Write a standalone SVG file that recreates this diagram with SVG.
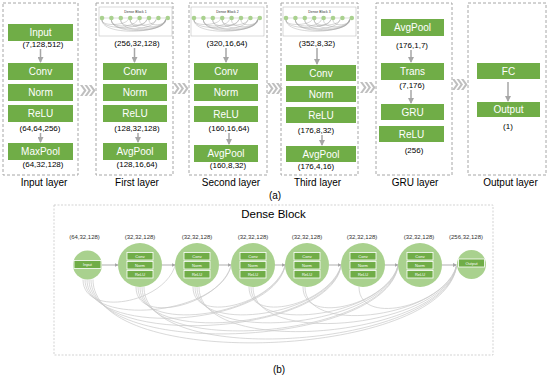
<svg xmlns="http://www.w3.org/2000/svg" width="550" height="377" viewBox="0 0 550 377">
<style>
.panel{fill:none;stroke:#a6a6a6;stroke-width:1;stroke-dasharray:3 2}
.box{fill:#70ad47}
.bt{font-family:"Liberation Sans",Arial,sans-serif;font-size:10px;fill:#fff;text-anchor:middle}
.dim{font-family:"Liberation Sans",Arial,sans-serif;font-size:8px;fill:#000;text-anchor:middle}
.lab{font-family:"Liberation Sans",Arial,sans-serif;font-size:10px;fill:#000;text-anchor:middle}
.arr{stroke:#a6a6a6;stroke-width:1.5;fill:none;marker-end:url(#ah)}
.chev{fill:#bfbfbf}
.circ{fill:#a9d18e}
.sbox{fill:#70ad47;stroke:#fff;stroke-width:0.8}
.st{font-family:"Liberation Sans",Arial,sans-serif;font-size:4px;fill:#fff;text-anchor:middle}
.sdim{font-family:"Liberation Sans",Arial,sans-serif;font-size:6px;fill:#333;text-anchor:middle}
.harr{stroke:#a6a6a6;stroke-width:0.9;fill:none;marker-end:url(#ah2)}
.curve{stroke:#c8c8c8;stroke-width:0.7;fill:none}
.tc{stroke:#9a9a9a;stroke-width:0.4;fill:none}
</style>
<defs>
<marker id="ah" markerUnits="userSpaceOnUse" markerWidth="6" markerHeight="6" refX="5" refY="3" orient="auto"><path d="M0,0 L6,3 L0,6 Z" fill="#a6a6a6"/></marker>
<marker id="ah2" markerUnits="userSpaceOnUse" markerWidth="4" markerHeight="4" refX="3.5" refY="2" orient="auto"><path d="M0,0 L4,2 L0,4 Z" fill="#a6a6a6"/></marker>
<g id="chevs">
<polygon points="0,0 2.5,0 6.5,5.5 2.5,11 0,11 4,5.5"/>
<polygon points="4.5,0 7,0 11,5.5 7,11 4.5,11 8.5,5.5"/>
<polygon points="9,0 11.5,0 15.5,5.5 11.5,11 9,11 13,5.5"/>
</g>
<g id="thumb">
<rect x="0" y="0" width="73" height="29" fill="#fff" stroke="#bfbfbf" stroke-width="0.6"/>
<line x1="3" y1="11" x2="68.8" y2="11" stroke="#a6a6a6" stroke-width="0.4"/>
<path class="tc" d="M3,13 C3,29 66,27 66.5,12.5"/>
<path class="tc" d="M3,13 C3,24 47,22 47.7,12.5"/>
<path class="tc" d="M3,13 C3,20 28,18 28.9,12.5"/>
<path class="tc" d="M12.4,13 C12.4,26 56,24 57,12.5"/>
<path class="tc" d="M12.4,13 C12.4,22 37,20 38.3,12.5"/>
<path class="tc" d="M21.8,13 C21.8,27 66,25 66.5,12.5"/>
<path class="tc" d="M21.8,13 C21.8,22 47,20 47.7,12.5"/>
<path class="tc" d="M31.2,13 C31.2,25 66,23 66.5,12.5"/>
<path class="tc" d="M31.2,13 C31.2,21 56,19 57,12.5"/>
<path class="tc" d="M40.6,13 C40.6,23 66,21 66.5,12.5"/>
<path class="tc" d="M50,13 C50,20 66,19 66.5,12.5"/>
<path class="tc" d="M12.4,13 C12.4,28 66,26 67,13"/>
<g fill="#a9d18e">
<circle cx="3" cy="11" r="2.3"/><circle cx="12.4" cy="11" r="2.3"/><circle cx="21.8" cy="11" r="2.3"/><circle cx="31.2" cy="11" r="2.3"/>
<circle cx="40.6" cy="11" r="2.3"/><circle cx="50" cy="11" r="2.3"/><circle cx="59.4" cy="11" r="2.3"/><circle cx="68.8" cy="11" r="2.3"/>
</g>
</g>
</defs>

<!-- (a) top panels -->
<g id="input-layer">
<rect class="panel" x="3" y="3" width="75" height="172"/>
<rect class="box" x="8" y="24" width="65" height="17"/><text class="bt" x="40.5" y="36">Input</text>
<text class="dim" x="43" y="47">(7,128,512)</text>
<rect class="box" x="8" y="63" width="65" height="17"/><text class="bt" x="40.5" y="75">Conv</text>
<rect class="box" x="8" y="84" width="65" height="17"/><text class="bt" x="40.5" y="96">Norm</text>
<rect class="box" x="8" y="105" width="65" height="17"/><text class="bt" x="40.5" y="117">ReLU</text>
<text class="dim" x="40" y="131">(64,64,256)</text>
<rect class="box" x="8" y="143" width="65" height="17"/><text class="bt" x="40.5" y="155">MaxPool</text>
<text class="dim" x="43" y="167">(64,32,128)</text>
<text class="lab" x="44" y="186">Input layer</text>
</g>
<g id="first-layer">
<rect class="panel" x="96" y="3" width="77" height="172"/>
<use href="#thumb" x="99" y="7"/>
<text x="135.5" y="12.5" font-family="Liberation Sans, Arial, sans-serif" font-size="3.5" text-anchor="middle" fill="#333">Dense Block 1</text>
<text class="dim" x="137" y="46">(256,32,128)</text>
<rect class="box" x="103" y="63" width="64" height="17"/><text class="bt" x="135" y="75">Conv</text>
<rect class="box" x="103" y="84" width="64" height="17"/><text class="bt" x="135" y="96">Norm</text>
<rect class="box" x="103" y="105" width="64" height="17"/><text class="bt" x="135" y="117">ReLU</text>
<text class="dim" x="137" y="131">(128,32,128)</text>
<rect class="box" x="103" y="143" width="64" height="17"/><text class="bt" x="135" y="155">AvgPool</text>
<text class="dim" x="137" y="167">(128,16,64)</text>
<text class="lab" x="137" y="186">First layer</text>
</g>
<g id="second-layer">
<rect class="panel" x="189" y="3" width="78" height="172"/>
<use href="#thumb" x="191" y="7"/>
<text x="227.5" y="12.5" font-family="Liberation Sans, Arial, sans-serif" font-size="3.5" text-anchor="middle" fill="#333">Dense Block 2</text>
<text class="dim" x="227" y="46">(320,16,64)</text>
<rect class="box" x="194" y="63" width="64" height="17"/><text class="bt" x="226" y="75">Conv</text>
<rect class="box" x="194" y="84" width="64" height="17"/><text class="bt" x="226" y="96">Norm</text>
<rect class="box" x="194" y="106" width="64" height="16"/><text class="bt" x="226" y="117.5">ReLU</text>
<text class="dim" x="229" y="131">(160,16,64)</text>
<rect class="box" x="194" y="145" width="64" height="17"/><text class="bt" x="226" y="157">AvgPool</text>
<text class="dim" x="228" y="168">(160,8,32)</text>
<text class="lab" x="231" y="186">Second layer</text>
</g>
<g id="third-layer">
<rect class="panel" x="281" y="3" width="77" height="172"/>
<use href="#thumb" x="283" y="7"/>
<text x="319.5" y="12.5" font-family="Liberation Sans, Arial, sans-serif" font-size="3.5" text-anchor="middle" fill="#333">Dense Block 3</text>
<text class="dim" x="317" y="46">(352,8,32)</text>
<rect class="box" x="286" y="65" width="70" height="16"/><text class="bt" x="321" y="76.5">Conv</text>
<rect class="box" x="286" y="86" width="70" height="16"/><text class="bt" x="321" y="97.5">Norm</text>
<rect class="box" x="286" y="107" width="70" height="16"/><text class="bt" x="321" y="118.5">ReLU</text>
<text class="dim" x="316" y="133">(176,8,32)</text>
<rect class="box" x="286" y="146" width="70" height="16"/><text class="bt" x="321" y="157.5">AvgPool</text>
<text class="dim" x="316" y="169">(176,4,16)</text>
<text class="lab" x="317.5" y="186">Third layer</text>
</g>
<g id="gru-layer">
<rect class="panel" x="376" y="3" width="76" height="172"/>
<rect class="box" x="381" y="19" width="63" height="17"/><text class="bt" x="412.5" y="31">AvgPool</text>
<text class="dim" x="412" y="48">(176,1,7)</text>
<rect class="box" x="381" y="63" width="63" height="17"/><text class="bt" x="412.5" y="75">Trans</text>
<text class="dim" x="412" y="88">(7,176)</text>
<rect class="box" x="381" y="104" width="63" height="16"/><text class="bt" x="412.5" y="115.5">GRU</text>
<rect class="box" x="379" y="126" width="65" height="16"/><text class="bt" x="411.5" y="137.5">ReLU</text>
<text class="dim" x="414" y="153">(256)</text>
<text class="lab" x="415" y="186">GRU layer</text>
</g>
<g id="output-layer">
<rect class="panel" x="468" y="3" width="78" height="172"/>
<rect class="box" x="477" y="63" width="63" height="16"/><text class="bt" x="508.5" y="74.5">FC</text>
<rect class="box" x="477" y="102" width="63" height="15"/><text class="bt" x="508.5" y="113">Output</text>
<text class="dim" x="508" y="129">(1)</text>
<text class="lab" x="510.5" y="186">Output layer</text>
</g>
<g id="connectors-a">
<line class="arr" x1="40.5" y1="49" x2="40.5" y2="62"/>
<line class="arr" x1="40.5" y1="133" x2="40.5" y2="142"/>
<line class="arr" x1="134.5" y1="48" x2="134.5" y2="62"/>
<line class="arr" x1="138" y1="133" x2="138" y2="142"/>
<line class="arr" x1="226" y1="48" x2="226" y2="62"/>
<line class="arr" x1="229" y1="133" x2="229" y2="144"/>
<line class="arr" x1="317" y1="48" x2="317" y2="64"/>
<line class="arr" x1="322" y1="135" x2="322" y2="145"/>
<line class="arr" x1="411" y1="50" x2="411" y2="62"/>
<line class="arr" x1="411" y1="90" x2="411" y2="103"/>
<line class="arr" x1="508" y1="82" x2="508" y2="101"/>
<g class="chev">
<use href="#chevs" x="80" y="85"/>
<use href="#chevs" x="173" y="83"/>
<use href="#chevs" x="267" y="83"/>
<use href="#chevs" x="360" y="82"/>
<use href="#chevs" x="452" y="79"/>
</g>
</g>
<text class="lab" x="275" y="199">(a)</text>

<!-- (b) dense block -->
<rect x="54" y="205" width="439" height="150" fill="none" stroke="#c8c8c8" stroke-width="0.8" stroke-dasharray="2 1.5"/>
<text x="273.5" y="218" font-family="Liberation Sans, Arial, sans-serif" font-size="11.5" text-anchor="middle" fill="#000">Dense Block</text>

<g id="connectors-b">
<line class="harr" x1="102" y1="265" x2="118" y2="265"/>
<line class="harr" x1="162" y1="265" x2="175" y2="265"/>
<line class="harr" x1="219" y1="265" x2="231" y2="265"/>
<line class="harr" x1="275" y1="265" x2="285" y2="265"/>
<line class="harr" x1="329" y1="265" x2="341" y2="265"/>
<line class="harr" x1="385" y1="265" x2="398" y2="265"/>
<line class="harr" x1="442" y1="265" x2="456.5" y2="265"/>
<path class="curve" d="M83,279.5 C83,317.5 163,304 175,266"/>
<path class="curve" d="M85,279.5 C85,328.5 219,315 231,266"/>
<path class="curve" d="M87,279.5 C87,339.5 273,326 285,266"/>
<path class="curve" d="M89,279.5 C89,349.5 329,336 341,266"/>
<path class="curve" d="M91,279.5 C91,360.5 386,347 398,266"/>
<path class="curve" d="M93,279.5 C93,372.5 444.5,359 456.5,266"/>
<path class="curve" d="M136,287 C136,326 219,305 231,266"/>
<path class="curve" d="M138,287 C138,336 273,315 285,266"/>
<path class="curve" d="M140,287 C140,347 329,326 341,266"/>
<path class="curve" d="M142,287 C142,358 386,337 398,266"/>
<path class="curve" d="M144,287 C144,369 444.5,348 456.5,266"/>
<path class="curve" d="M193,287 C193,325 273,304 285,266"/>
<path class="curve" d="M195,287 C195,336 329,315 341,266"/>
<path class="curve" d="M197,287 C197,347 386,326 398,266"/>
<path class="curve" d="M199,287 C199,359 444.5,338 456.5,266"/>
<path class="curve" d="M249,287 C249,325 329,304 341,266"/>
<path class="curve" d="M251,287 C251,336 386,315 398,266"/>
<path class="curve" d="M253,287 C253,348 444.5,327 456.5,266"/>
<path class="curve" d="M303,287 C303,326 386,305 398,266"/>
<path class="curve" d="M305,287 C305,337 444.5,316 456.5,266"/>
<path class="curve" d="M359,287 C359,327 444.5,306 456.5,266"/>
</g>

<g id="node-input">
<text class="sdim" x="84.5" y="239">(64,32,128)</text>
<circle class="circ" cx="87.5" cy="265" r="14.5"/>
<rect class="sbox" x="74" y="260.5" width="27" height="8"/><text class="st" x="87.5" y="266">Input</text>
</g>
<g id="node-1">
<text class="sdim" x="140" y="239">(32,32,128)</text>
<circle class="circ" cx="140" cy="265" r="22"/>
<rect class="sbox" x="127" y="252.5" width="26" height="7.5"/><text class="st" x="140" y="257.7">Conv</text>
<rect class="sbox" x="127" y="261.5" width="26" height="7.5"/><text class="st" x="140" y="266.7">Norm</text>
<rect class="sbox" x="127" y="270.5" width="26" height="7.5"/><text class="st" x="140" y="275.7">ReLU</text>
</g>
<g id="node-2">
<text class="sdim" x="197" y="239">(32,32,128)</text>
<circle class="circ" cx="197" cy="265" r="22"/>
<rect class="sbox" x="184" y="252.5" width="26" height="7.5"/><text class="st" x="197" y="257.7">Conv</text>
<rect class="sbox" x="184" y="261.5" width="26" height="7.5"/><text class="st" x="197" y="266.7">Norm</text>
<rect class="sbox" x="184" y="270.5" width="26" height="7.5"/><text class="st" x="197" y="275.7">ReLU</text>
</g>
<g id="node-3">
<text class="sdim" x="253" y="239">(32,32,128)</text>
<circle class="circ" cx="253" cy="265" r="22"/>
<rect class="sbox" x="240" y="252.5" width="26" height="7.5"/><text class="st" x="253" y="257.7">Conv</text>
<rect class="sbox" x="240" y="261.5" width="26" height="7.5"/><text class="st" x="253" y="266.7">Norm</text>
<rect class="sbox" x="240" y="270.5" width="26" height="7.5"/><text class="st" x="253" y="275.7">ReLU</text>
</g>
<g id="node-4">
<text class="sdim" x="307" y="239">(32,32,128)</text>
<circle class="circ" cx="307" cy="265" r="22"/>
<rect class="sbox" x="294" y="252.5" width="26" height="7.5"/><text class="st" x="307" y="257.7">Conv</text>
<rect class="sbox" x="294" y="261.5" width="26" height="7.5"/><text class="st" x="307" y="266.7">Norm</text>
<rect class="sbox" x="294" y="270.5" width="26" height="7.5"/><text class="st" x="307" y="275.7">ReLU</text>
</g>
<g id="node-5">
<text class="sdim" x="362" y="239">(32,32,128)</text>
<circle class="circ" cx="363" cy="265" r="22"/>
<rect class="sbox" x="350" y="252.5" width="26" height="7.5"/><text class="st" x="363" y="257.7">Conv</text>
<rect class="sbox" x="350" y="261.5" width="26" height="7.5"/><text class="st" x="363" y="266.7">Norm</text>
<rect class="sbox" x="350" y="270.5" width="26" height="7.5"/><text class="st" x="363" y="275.7">ReLU</text>
</g>
<g id="node-6">
<text class="sdim" x="419" y="239">(32,32,128)</text>
<circle class="circ" cx="420" cy="265" r="22"/>
<rect class="sbox" x="407" y="252.5" width="26" height="7.5"/><text class="st" x="420" y="257.7">Conv</text>
<rect class="sbox" x="407" y="261.5" width="26" height="7.5"/><text class="st" x="420" y="266.7">Norm</text>
<rect class="sbox" x="407" y="270.5" width="26" height="7.5"/><text class="st" x="420" y="275.7">ReLU</text>
</g>
<g id="node-output">
<text class="sdim" x="466" y="239">(256,32,128)</text>
<circle class="circ" cx="471.5" cy="264.5" r="14.5"/>
<rect class="sbox" x="458.5" y="259" width="26" height="8"/><text class="st" x="471.5" y="264.5">Output</text>
</g>
<text class="lab" x="279" y="373">(b)</text>
</svg>
